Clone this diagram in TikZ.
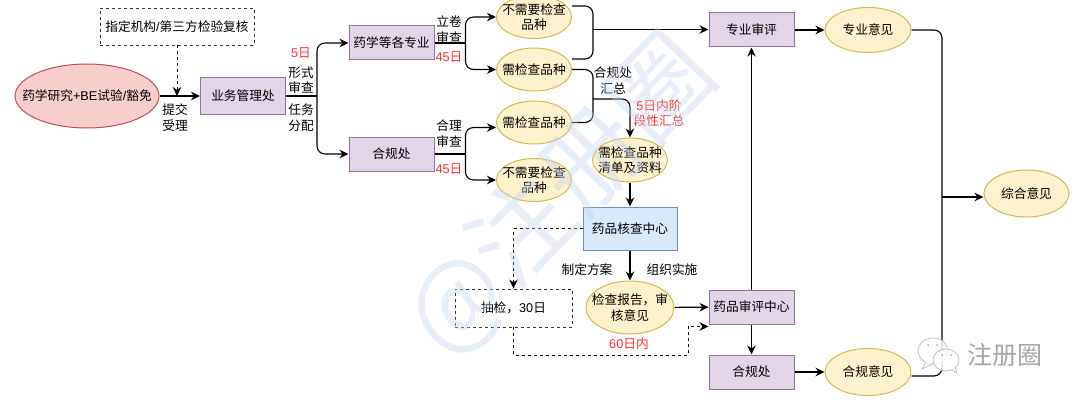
\documentclass[tikz,border=0pt]{standalone}
\usepackage{fontspec}
\setmainfont{Noto Sans CJK SC}
\newfontfamily\lat{Liberation Sans}
\usepackage{xcolor}
\usetikzlibrary{calc, shapes.geometric, positioning, arrows.meta}

\definecolor{procfill}{HTML}{E1D5E7}
\definecolor{procline}{HTML}{9673A6}
\definecolor{oval}{HTML}{FFF2CC}
\definecolor{ovalline}{HTML}{D6B656}
\definecolor{startfill}{HTML}{F8CECC}
\definecolor{startline}{HTML}{B85450}
\definecolor{bluefill}{HTML}{DAE8FC}
\definecolor{blueline}{HTML}{6C8EBF}
\definecolor{daycol}{HTML}{FF3333}
\definecolor{markcol}{HTML}{BCD4F0}

\tikzset{
    proc/.style={draw=procline, fill=procfill, line width=1pt, minimum width=85pt, minimum height=34pt, align=center, inner sep=0pt},
    res/.style={draw=ovalline, fill=oval, line width=1pt, ellipse, minimum width=75pt, minimum height=43pt, align=center, inner sep=-30pt},
    dashbox/.style={draw=black!80, dashed, line width=0.9pt, align=center, inner sep=0pt},
    lab/.style={align=center, inner sep=0pt},
    day/.style={lab, text=daycol},
    link/.style={-{Stealth[length=9pt, width=8.5pt]}, line width=1.1pt, rounded corners=8pt},
    joinline/.style={line width=1.1pt, rounded corners=8pt},
    dashlink/.style={link, dashed, line width=0.9pt, rounded corners=0pt},
    bubble/.style={draw=black!25, fill=white, fill opacity=0.85, line width=0.8pt}
}

\begin{document}
\begin{tikzpicture}[>=latex, x=1pt, y=-1pt, font=\fontsize{12.7}{15.5}\selectfont]
    \useasboundingbox (0,0) rectangle (1080,404);
    \clip (0,0) rectangle (1080,404);

    % 1. Các nút bên trái
    \node[res, draw=startline, fill=startfill, minimum width=144pt, minimum height=64pt] (drug) at (87,96) {药学研究{\lat +BE}试验{\lat /}豁免};
    \node[dashbox, minimum width=154pt, minimum height=37pt] (third) at (177,26.5) {指定机构{\lat /}第三方检验复核};
    \node[proc, minimum height=37pt] (office) at (243,96) {业务管理处};
    \node[proc] (major) at (391.5,43) {药学等各专业};
    \node[proc] (comp) at (391.5,154) {合规处};

    % 2. Các nhánh phẩm chủng
    \node[res] (nocheck) at (534,17) {不需要检查\\品种};
    \node[res] (check) at (534,69.5) {需检查品种};
    \node[res] (checktwo) at (534,122.5) {需检查品种};
    \node[res] (nochecktwo) at (534,180) {不需要检查\\品种};
    \node[res, minimum height=44pt] (list) at (630,160) {需检查品种\\清单及资料};

    % 3. Trung tâm kiểm tra
    \node[proc, draw=blueline, fill=bluefill, minimum width=94pt, minimum height=43pt] (center) at (630,228.5) {药品核查中心};
    \node[res, minimum width=88pt, minimum height=53pt] (report) at (630,307.5) {检查报告，审\\核意见};
    \node[dashbox, minimum width=117pt, minimum height=38pt] (sample) at (513.5,308) {抽检，{\lat 30}日};

    % 4. Các nút bên phải
    \node[proc] (review) at (751.5,30) {专业审评};
    \node[proc] (cde) at (751.5,307) {药品审评中心};
    \node[proc] (comptwo) at (751.5,372) {合规处};
    \node[res, minimum width=86pt, minimum height=45pt] (opin) at (868,30) {专业意见};
    \node[res, minimum width=86pt, minimum height=47pt] (compop) at (868,372) {合规意见};
    \node[res, minimum width=85pt, minimum height=47pt] (final) at (1026.5,193.5) {综合意见};

    % 5. Các mũi tên
    \coordinate (drop) at (177,96);
    \coordinate (split) at (317,96);
    \coordinate (splita) at (465.5,43);
    \coordinate (splitb) at (465.5,154);
    \coordinate (merge) at (593,29.5);
    \coordinate (mergeb) at (593,99);
    \coordinate (side) at (942,197);
    \coordinate (lowin) at (688,355);

    \draw[link] (drug) -- (office);
    \draw[dashlink] (third) -- (drop);
    \draw[line width=1.1pt] (office) -- (split);
    \draw[link] (split) |- (major);
    \draw[link] (split) |- (comp);
    \draw[line width=1.1pt] (major) -- (splita);
    \draw[link] (splita) |- (nocheck);
    \draw[link] (splita) |- (check);
    \draw[line width=1.1pt] (comp) -- (splitb);
    \draw[link] (splitb) |- ([yshift=-5pt]checktwo.west);
    \draw[link] (splitb) |- (nochecktwo);

    \draw[joinline] ([yshift=11pt]nocheck.east) -| (merge) |- ([yshift=10.5pt]check.east);
    \draw[link] (merge) -- (merge -| review.west);
    \draw[joinline] (check) -| (mergeb) |- (checktwo);
    \draw[link] (mergeb) -| (list);
    \draw[link] (list) -- (center);
    \draw[link] (center) -- (report);
    \draw[link] (report) -- (cde);
    \draw[dashlink] (center) -| (sample);
    \draw[dashlink] (sample) |- (lowin) |- ([yshift=-19.5pt]cde.west);
    \draw[link] (cde) -- (review);
    \draw[link] (cde) -- (comptwo);
    \draw[link] (review) -- (opin);
    \draw[link] (comptwo) -- (compop);
    \draw[joinline] (opin) -| (side) |- ([yshift=-4pt]compop.east);
    \draw[link] (side) -- (side -| final.west);

    % 6. Nhãn
    \node[lab] (submit) at (175,117.5) {提交\\受理};
    \node[day] (dayfive) at (301,53) {{\lat 5}日};
    \node[lab] (formal) at (301,80) {形式\\审查};
    \node[lab] (assign) at (301,117.5) {任务\\分配};
    \node[lab] (filing) at (449,29.5) {立卷\\审查};
    \node[day] (dayone) at (449,57) {{\lat 45}日};
    \node[lab] (reason) at (449,133.5) {合理\\审查};
    \node[day] (daytwo) at (449,169) {{\lat 45}日};
    \node[lab] (gather) at (613,80.5) {合规处\\汇总};
    \node[day] (stage) at (659,113) {{\lat 5}日内阶\\段性汇总};
    \node[lab] (plan) at (587,270) {制定方案};
    \node[lab] (impl) at (672,270) {组织实施};
    \node[day] (daysixty) at (629,344) {{\lat 60}日内};

    % 7. Hình mờ
    \node[text=markcol, opacity=0.38, rotate=46, font=\fontsize{100}{100}\selectfont, inner sep=0pt] (mark) at (560,195) {@注册圈};

    \draw[bubble] (933,351) ellipse (15pt and 13pt);
    \draw[bubble] (926,362) -- (922,369) -- (933,364);
    \draw[bubble] (946,360) ellipse (13pt and 11pt);
    \draw[bubble] (952,370) -- (957,373) -- (955,367);
    \fill[black!30] (928,345) circle (1pt) (937,345) circle (1pt) (942,355) circle (1.2pt) (951,355) circle (1pt);
    \node[text=black!35, font=\fontsize{25}{25}\selectfont, inner sep=0pt] (logo) at (1005,355) {注册圈};
\end{tikzpicture}
\end{document}
